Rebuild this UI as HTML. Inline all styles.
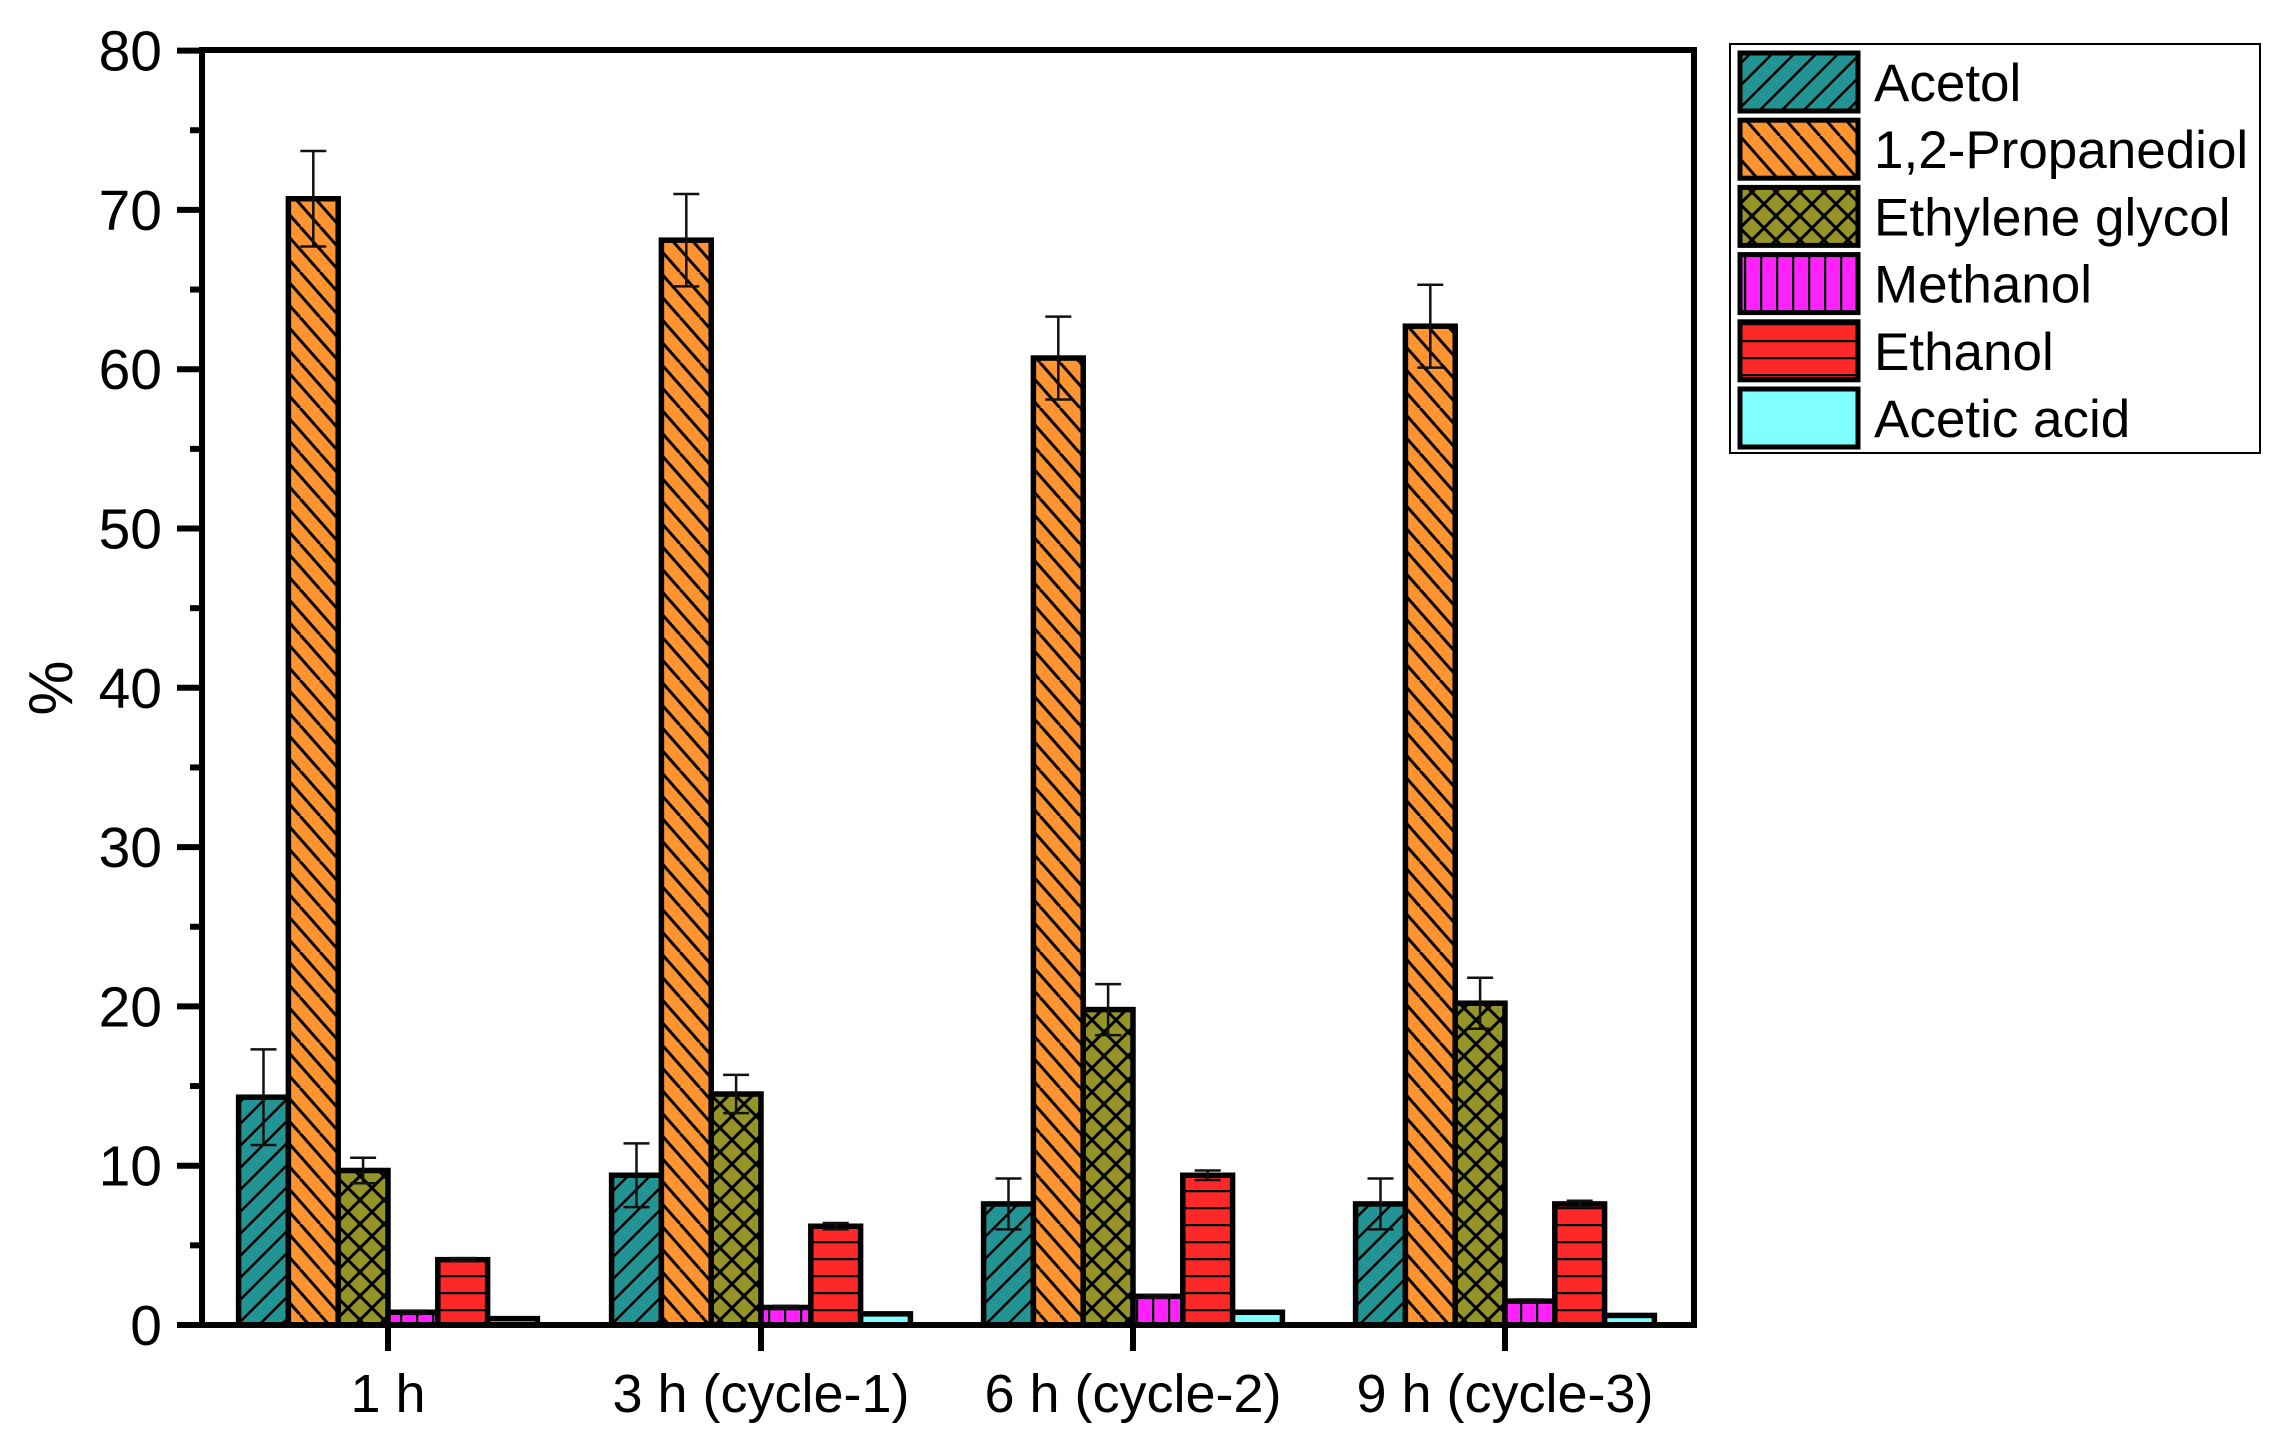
<!DOCTYPE html>
<html><head><meta charset="utf-8"><style>html,body{margin:0;padding:0;background:#fff}svg{display:block}</style></head>
<body>
<svg id="s" width="2291" height="1454" xmlns="http://www.w3.org/2000/svg" font-family="Liberation Sans, Arial, sans-serif">
<defs>
<pattern id="p0" patternUnits="userSpaceOnUse" width="22" height="22"><rect width="22" height="22" fill="#229494"/><path d="M-2,24 L24,-2 M-13,13 L13,-13 M9,35 L35,9" stroke="#000" stroke-width="2.5"/></pattern>
<pattern id="p1" patternUnits="userSpaceOnUse" width="40" height="45.33"><rect width="40" height="45.33" fill="#FF9430"/><path d="M0,0 L40,45.33 M-40,0 L0,45.33 M40,0 L80,45.33 M-20,0 L20,45.33 M20,0 L60,45.33" stroke="#000" stroke-width="3"/></pattern>
<pattern id="p2" patternUnits="userSpaceOnUse" width="24" height="24"><rect width="24" height="24" fill="#949428"/><path d="M-2,-2 L26,26 M-2,26 L26,-2" stroke="#000" stroke-width="3"/></pattern>
<pattern id="p3" patternUnits="userSpaceOnUse" width="16" height="16"><rect width="16" height="16" fill="#FF22FF"/><path d="M1,0 V16" stroke="#000" stroke-width="2.5"/></pattern>
<pattern id="p4" patternUnits="userSpaceOnUse" width="17" height="17"><rect width="17" height="17" fill="#FF2828"/><path d="M0,1 H17" stroke="#000" stroke-width="2.5"/></pattern>
<pattern id="p5" patternUnits="userSpaceOnUse" width="10" height="10"><rect width="10" height="10" fill="#80FFFF"/></pattern>
</defs>
<g id="bars"></g>
<g stroke="#000" stroke-width="6" fill="none">
<rect x="202" y="50" width="1492" height="1275"/>
</g>
<g id="ticks" stroke="#000" stroke-width="6"></g>
<g id="lab" fill="#000"></g>
<text transform="translate(72,688) rotate(-90)" font-size="62" text-anchor="middle">%</text>
<rect x="1730" y="44" width="530" height="409" fill="#fff" stroke="#000" stroke-width="2"/>
<g id="leg" font-size="53"></g>
</svg>
<script>
const NS="http://www.w3.org/2000/svg";
function el(p,t,a,txt){const e=document.createElementNS(NS,t);for(const k in a)e.setAttribute(k,a[k]);if(txt!=null)e.textContent=txt;document.getElementById(p).appendChild(e);return e;}
const y0=1325,k=15.93,bw=49.8;
const centers=[388,761,1133,1505];
const vals=[[14.3,70.7,9.7,0.8,4.1,0.4],[9.4,68.1,14.5,1.1,6.2,0.7],[7.6,60.7,19.8,1.8,9.4,0.8],[7.6,62.7,20.2,1.5,7.6,0.6]];
const errs=[[3,3,0.8,0.1,0.1,0.05],[2,2.9,1.2,0.1,0.2,0.05],[1.6,2.6,1.6,0.1,0.3,0.05],[1.6,2.6,1.6,0.1,0.2,0.05]];
centers.forEach((c,g)=>{
 for(let i=0;i<6;i++){
  const x=c-3*bw+i*bw, h=vals[g][i]*k, y=y0-h;
  el("bars","rect",{x:x,y:y,width:bw,height:h,fill:`url(#p${i})`,stroke:"#000","stroke-width":5.5});
  const cx=x+bw/2,e=errs[g][i]*k;
  if(errs[g][i]>=0.1){
   el("bars","path",{d:`M${cx},${y-e}V${y+e}M${cx-13},${y-e}H${cx+13}M${cx-13},${y+e}H${cx+13}`,stroke:"#111","stroke-width":2.5,fill:"none"});
  }
 }
 el("ticks","line",{x1:c,y1:y0,x2:c,y2:1351});
 el("lab","text",{x:c,y:1412,"text-anchor":"middle","font-size":54},["1 h","3 h (cycle-1)","6 h (cycle-2)","9 h (cycle-3)"][g]);
});
for(let v=0;v<=80;v+=5){
 const y=y0-v*k;
 const major=v%10==0;
 el("ticks","line",{x1:major?177:190,y1:y,x2:202,y2:y});
 if(major) el("lab","text",{x:162,y:y+20,"text-anchor":"end","font-size":57},String(v));
}
const names=["Acetol","1,2-Propanediol","Ethylene glycol","Methanol","Ethanol","Acetic acid"];
names.forEach((n,i)=>{
 const y=53+i*67.2;
 el("leg","rect",{x:1740,y:y,width:118,height:58,fill:`url(#p${i})`,stroke:"#000","stroke-width":5});
 el("leg","text",{x:1874,y:y+48},n);
});
</script>
</body></html>
